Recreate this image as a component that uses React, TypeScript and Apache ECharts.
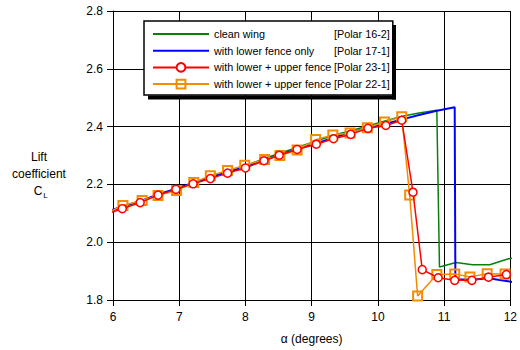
import React, { useEffect, useRef } from "react";
import * as echarts from "echarts";

const alphaGreen = [5.88, 6.14, 6.41, 6.68, 6.95, 7.21, 7.47, 7.73, 8.0, 8.28, 8.51, 8.78, 9.07, 9.33, 9.59, 9.85, 10.12, 10.37, 10.62, 10.89, 10.93, 11.18, 11.43, 11.69, 11.96, 12.2];
const clGreen = [2.1, 2.12, 2.142, 2.163, 2.185, 2.205, 2.225, 2.245, 2.264, 2.29, 2.307, 2.328, 2.35, 2.37, 2.386, 2.402, 2.42, 2.436, 2.447, 2.457, 1.914, 1.93, 1.922, 1.922, 1.942, 1.95];

const alphaBlue = [5.88, 6.14, 6.41, 6.68, 6.95, 7.21, 7.47, 7.73, 8.0, 8.28, 8.51, 8.78, 9.07, 9.33, 9.59, 9.85, 10.12, 10.37, 10.62, 10.89, 11.16, 11.17, 11.42, 11.67, 11.94, 12.2];
const clBlue = [2.102, 2.124, 2.142, 2.165, 2.185, 2.205, 2.224, 2.243, 2.26, 2.285, 2.302, 2.322, 2.342, 2.362, 2.38, 2.395, 2.41, 2.425, 2.44, 2.455, 2.467, 1.872, 1.87, 1.875, 1.866, 1.855];

const alphaRed = [5.88, 6.14, 6.41, 6.68, 6.95, 7.21, 7.47, 7.73, 8.0, 8.28, 8.51, 8.78, 9.07, 9.33, 9.59, 9.85, 10.12, 10.36, 10.53, 10.67, 10.91, 11.16, 11.42, 11.67, 11.94];
const clRed = [2.095, 2.116, 2.137, 2.163, 2.183, 2.202, 2.22, 2.239, 2.257, 2.282, 2.301, 2.321, 2.339, 2.358, 2.373, 2.394, 2.404, 2.422, 2.173, 1.905, 1.877, 1.868, 1.868, 1.879, 1.888];

const alphaOrange = [5.88, 6.15, 6.44, 6.68, 6.96, 7.22, 7.47, 7.73, 7.99, 8.29, 8.52, 8.78, 9.06, 9.32, 9.58, 9.84, 10.1, 10.36, 10.48, 10.6, 10.89, 11.16, 11.39, 11.65, 11.92];
const clOrange = [2.098, 2.127, 2.144, 2.162, 2.179, 2.207, 2.23, 2.248, 2.266, 2.286, 2.3, 2.319, 2.355, 2.371, 2.378, 2.396, 2.416, 2.434, 2.163, 1.814, 1.888, 1.89, 1.88, 1.891, 1.89];

const seriesNames = [
  "clean wing [Polar 16-2]",
  "with lower fence only [Polar 17-1]",
  "with lower + upper fence [Polar 23-1]",
  "with lower + upper fence [Polar 22-1]",
];

const xTicks = [6, 7, 8, 9, 10, 11, 12];
const yTicks = [1.8, 2.0, 2.2, 2.4, 2.6, 2.8];

const FONT = "'Liberation Sans', Arial, Helvetica, sans-serif";

function toData(xs: number[], ys: number[]) {
  return xs.map((x, i) => {
    const inside = x >= xTicks[0] && x <= xTicks[xTicks.length - 1];
    return inside ? { value: [x, ys[i]] } : { value: [x, ys[i]], symbol: "none" };
  });
}

export default function App() {
  const ref = useRef<HTMLDivElement>(null);
  useEffect(() => {
    if (!ref.current) return;
    const chart = echarts.init(ref.current, null, { renderer: "svg" });
    chart.setOption({
      animation: false,
      backgroundColor: "#fff",
      grid: { left: 113, right: 4, top: 11, bottom: 42, containLabel: false },
      xAxis: {
        type: "value",
        min: xTicks[0],
        max: xTicks[xTicks.length - 1],
        interval: 1,
        name: "α (degrees)",
        nameLocation: "middle",
        nameGap: 33,
        nameTextStyle: { color: "#000", fontSize: 12, fontFamily: FONT },
        axisLine: { show: true, lineStyle: { color: "#000", width: 1 } },
        axisTick: { show: true, length: 6, lineStyle: { color: "#000" } },
        axisLabel: { color: "#000", fontSize: 12, fontFamily: FONT, margin: 11 },
        splitLine: { show: true, lineStyle: { color: "#000", width: 1 } },
      },
      yAxis: {
        type: "value",
        min: yTicks[0],
        max: yTicks[yTicks.length - 1],
        interval: 0.2,
        axisLine: { show: true, lineStyle: { color: "#000", width: 1 } },
        axisTick: { show: true, length: 6, lineStyle: { color: "#000" } },
        axisLabel: {
          color: "#000",
          fontSize: 12,
          fontFamily: FONT,
          margin: 10,
          formatter: (v: number) => v.toFixed(1),
        },
        splitLine: { show: true, lineStyle: { color: "#000", width: 1 } },
      },
      legend: {
        show: true,
        orient: "vertical",
        left: 144,
        top: 21,
        z: 20,
        data: [
          { name: seriesNames[0], itemStyle: { opacity: 0 } },
          { name: seriesNames[1], itemStyle: { opacity: 0 } },
          { name: seriesNames[2] },
          { name: seriesNames[3] },
        ],
        backgroundColor: "#fff",
        borderColor: "#000",
        borderWidth: 1.5,
        padding: [6, 3, 4, 8],
        itemWidth: 56,
        itemHeight: 11,
        itemGap: 2.7,
        selectedMode: false,
        formatter: (name: string) => {
          const i = name.indexOf(" [");
          return `{a|${name.slice(0, i)}}{b|${name.slice(i + 1)}}`;
        },
        textStyle: {
          color: "#000",
          fontSize: 10.8,
          fontFamily: FONT,
          lineHeight: 14,
          rich: {
            a: { width: 120, fontSize: 10.8, fontFamily: FONT, color: "#000", lineHeight: 14 },
            b: { fontSize: 10.8, fontFamily: FONT, color: "#000", lineHeight: 14 },
          },
        },
      },
      graphic: [
        { type: "line", z: 30, silent: true, shape: { x1: 394, y1: 25, x2: 394, y2: 99.5 }, style: { stroke: "#000", lineWidth: 4 } },
        { type: "line", z: 30, silent: true, shape: { x1: 148, y1: 97.5, x2: 396, y2: 97.5 }, style: { stroke: "#000", lineWidth: 4 } },
        { type: "text", x: 39, y: 157, style: { text: "Lift", fontSize: 12, fontFamily: FONT, fill: "#000", align: "center", verticalAlign: "middle" } },
        { type: "text", x: 39, y: 174, style: { text: "coefficient", fontSize: 12, fontFamily: FONT, fill: "#000", align: "center", verticalAlign: "middle" } },
        { type: "text", x: 38, y: 191, style: { text: "C", fontSize: 12, fontFamily: FONT, fill: "#000", align: "center", verticalAlign: "middle" } },
        { type: "text", x: 45.5, y: 195, style: { text: "L", fontSize: 8, fontFamily: FONT, fill: "#000", align: "center", verticalAlign: "middle" } },
      ],
      series: [
        {
          name: seriesNames[0],
          type: "line",
          data: toData(alphaGreen, clGreen),
          symbol: "none",
          z: 2,
          lineStyle: { color: "#0a800a", width: 1.5 },
          itemStyle: { color: "#0a800a" },
        },
        {
          name: seriesNames[1],
          type: "line",
          data: toData(alphaBlue, clBlue),
          symbol: "none",
          z: 3,
          lineStyle: { color: "#0000ff", width: 2 },
          itemStyle: { color: "#0000ff" },
        },
        {
          name: seriesNames[2],
          type: "line",
          data: toData(alphaRed, clRed),
          symbol: "circle",
          symbolSize: 8,
          z: 5,
          lineStyle: { color: "#ff0000", width: 1.5 },
          itemStyle: { color: "#fff", borderColor: "#ff0000", borderWidth: 1.5 },
        },
        {
          name: seriesNames[3],
          type: "line",
          data: toData(alphaOrange, clOrange),
          symbol: "rect",
          symbolSize: 9,
          z: 4,
          lineStyle: { color: "#f28c00", width: 1.5 },
          itemStyle: { color: "rgba(255,255,255,0)", borderColor: "#f28c00", borderWidth: 2 },
        },
      ],
    });
    return () => chart.dispose();
  }, []);
  return <div ref={ref} style={{ position: "fixed", left: 0, top: 0, width: 520, height: 350 }} />;
}
